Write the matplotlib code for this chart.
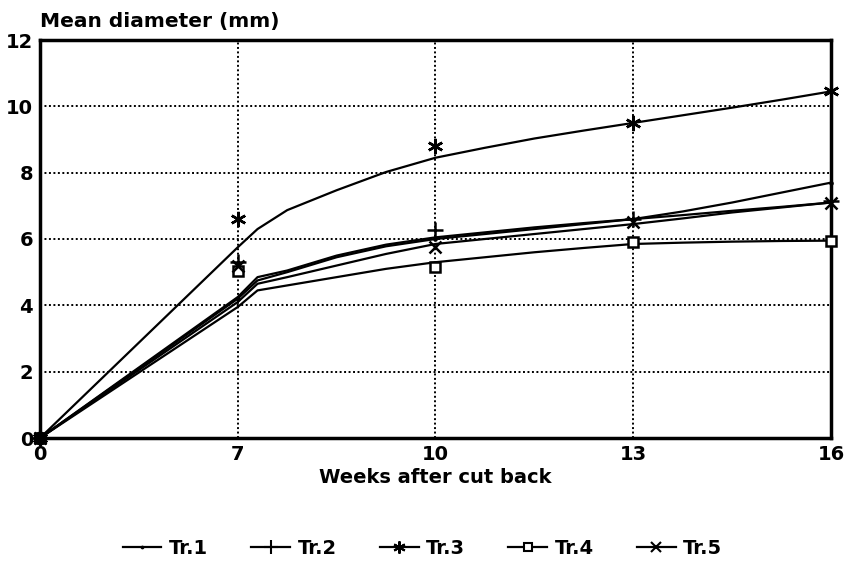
import matplotlib
matplotlib.use('Agg')
import matplotlib.pyplot as plt
from matplotlib.lines import Line2D

plt.rcParams['font.family'] = ['DejaVu Sans']
plt.rcParams['font.weight'] = 'bold'

weeks = ['0', '7', '10', '13', '16']

# observed means (markers)
tr1 = [0, 4.2, 6.0, 6.6, 7.7]
tr2 = [0, 5.3, 6.27, 6.6, 7.15]
tr3 = [0, 6.6, 8.8, 9.5, 10.45]
tr4 = [0, 5.05, 5.15, 5.9, 5.95]
tr5 = [0, 5.2, 5.75, 6.5, 7.1]

# fitted curves at these category positions
curve_x = [0, 1.0, 1.1, 1.25, 1.5, 1.75, 2.0, 2.25, 2.5, 2.75, 3.0, 3.25, 3.5, 3.75, 4.0]
fit1 = [0, 4.2, 4.75, 5.0, 5.45, 5.78, 6.0, 6.15, 6.3, 6.45, 6.6, 6.83, 7.1, 7.4, 7.7]
fit2 = [0, 4.25, 4.85, 5.05, 5.5, 5.83, 6.05, 6.2, 6.35, 6.48, 6.6, 6.72, 6.85, 6.97, 7.1]
fit3 = [0, 5.75, 6.3, 6.87, 7.47, 8.02, 8.45, 8.75, 9.03, 9.27, 9.5, 9.73, 9.96, 10.2, 10.45]
fit4 = [0, 3.95, 4.45, 4.6, 4.85, 5.1, 5.3, 5.45, 5.6, 5.73, 5.85, 5.89, 5.92, 5.94, 5.95]
fit5 = [0, 4.1, 4.65, 4.85, 5.2, 5.55, 5.85, 6.0, 6.15, 6.3, 6.45, 6.62, 6.8, 6.95, 7.1]

names = ['Tr.1', 'Tr.2', 'Tr.3', 'Tr.4', 'Tr.5']
markers = ['.', '+', (6, 2, 0), 's', 'x']
msizes = [3, 12, 11, 7, 9]
means = [tr1, tr2, tr3, tr4, tr5]
fits = [fit1, fit2, fit3, fit4, fit5]

fig = plt.figure(figsize=(8.45, 5.7), dpi=100)
ax = fig.add_axes([40/845, 1-438/570, (831-40)/845, (438-40)/570])

xs = range(len(weeks))
handles = []
for name, m, ms, y, f in zip(names, markers, msizes, means, fits):
    face = 'white' if m == 's' else 'black'
    ax.plot(curve_x, f, color='black', lw=1.6, zorder=3)
    ax.plot(xs, y, linestyle='none', marker=m, ms=ms, color='black',
            mfc=face, mew=1.8, zorder=4, clip_on=False)
    handles.append(Line2D([], [], color='black', lw=1.6, marker=m, ms=ms * 0.8,
                          mfc=face, mew=1.5))

# blob at the origin where all markers overlap
ax.plot([0], [0], marker='o', ms=9, color='black', zorder=5, clip_on=False)

ax.set_xlim(0, 4)
ax.set_ylim(0, 12)
ax.set_xticks(list(xs))
ax.set_xticklabels(weeks)
ax.set_yticks(range(0, 13, 2))
ax.tick_params(labelsize=14, length=0, pad=5)
ax.grid(True, color='black', linestyle=(0, (1, 1.3)), lw=1.4)
for s in ax.spines.values():
    s.set_linewidth(2.5)

ax.set_xlabel('Weeks after cut back', fontsize=14, fontweight='bold', labelpad=3)
fig.text(40/845, 1-27/570, 'Mean diameter (mm)', fontsize=14.5, fontweight='bold',
         va='baseline', ha='left')

fig.legend(handles, names, loc='center', bbox_to_anchor=(0.5, 1-548/570), ncol=5,
           frameon=False, fontsize=14, handlelength=2.0, handletextpad=0.4,
           columnspacing=2.2)

fig.savefig('out.png', dpi=100)
